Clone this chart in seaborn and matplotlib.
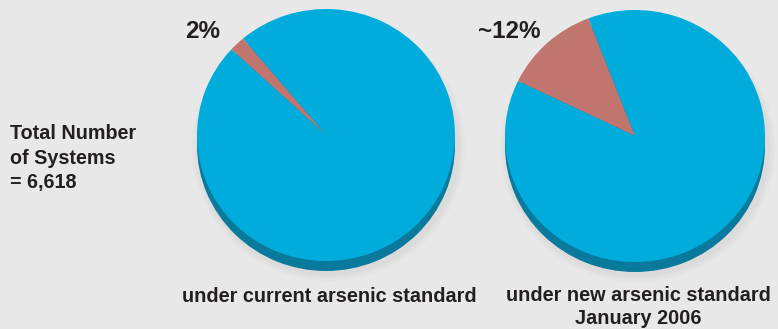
import matplotlib
matplotlib.use("Agg")
import matplotlib.pyplot as plt
import seaborn as sns

# --- data ---
groups = ["exceeding standard", "meeting standard"]
share_current = [2, 98]
share_new = [12, 88]
pct_labels = ["2%", "~12%"]
panel_titles = ["under current arsenic standard", "under new arsenic standard\nJanuary 2006"]
side_note = "Total Number\nof Systems\n= 6,618"

sns.set_theme(style="white")
plt.rcParams['font.family'] = ['Liberation Sans', 'DejaVu Sans']

bg = "#e8e8e9"
blue = "#00acdc"
red = "#c1756f"
dark_blue = "#0a7a9c"
ink = "#231f20"

W, H = 778, 329
fig = plt.figure(figsize=(W / 100, H / 100), dpi=100, facecolor=bg)


def add_pie(cx, cy, rx, ry, values, start):
    # axes box in pixels, converted to figure fractions
    depth = 10
    left = (cx - rx) / W
    bottom = 1 - (cy + ry + depth + 4) / H
    ax = fig.add_axes([left, bottom, 2 * rx / W, (2 * ry + depth + 4) / H])
    ax.set_facecolor("none")
    off = depth / ry
    # soft gray shadow
    for k, a in zip([1.06, 1.04, 1.02], [0.04, 0.05, 0.06]):
        ax.pie([1], radius=k, colors=["#9a9a9a"], center=(0.02, -off - 0.02),
               wedgeprops=dict(alpha=a, linewidth=0))
    # 3d edge
    ax.pie([1], radius=1, colors=[dark_blue], center=(0, -off),
           wedgeprops=dict(linewidth=0))
    ax.pie(values, radius=1, colors=[red, blue], startangle=start,
           counterclock=True, center=(0, 0), wedgeprops=dict(linewidth=0))
    ax.set_xlim(-1, 1)
    ax.set_ylim(-1 - (depth + 4) / ry, 1)
    ax.set_aspect("auto")
    ax.axis("off")
    return ax


add_pie(326, 135, 129, 126, share_current, 130)
add_pie(635, 136, 130, 126, share_new, 111)

fig.text(185 / W, 1 - 31 / H, pct_labels[0], fontsize=17.5, fontweight="bold",
         color=ink, ha="left", va="center")
fig.text(478 / W, 1 - 31 / H, pct_labels[1], fontsize=17.5, fontweight="bold",
         color=ink, ha="left", va="center")

fig.text(10 / W, 1 - 158 / H, side_note, fontsize=14.2, fontweight="bold",
         color=ink, ha="left", va="center", linespacing=1.38)

fig.text(329 / W, 1 - 296 / H, panel_titles[0], fontsize=14.3, fontweight="bold",
         color=ink, ha="center", va="center")
fig.text(638 / W, 1 - 307 / H, panel_titles[1], fontsize=14.3, fontweight="bold",
         color=ink, ha="center", va="center", linespacing=1.25)

fig.savefig("out.png", dpi=100, facecolor=bg)
